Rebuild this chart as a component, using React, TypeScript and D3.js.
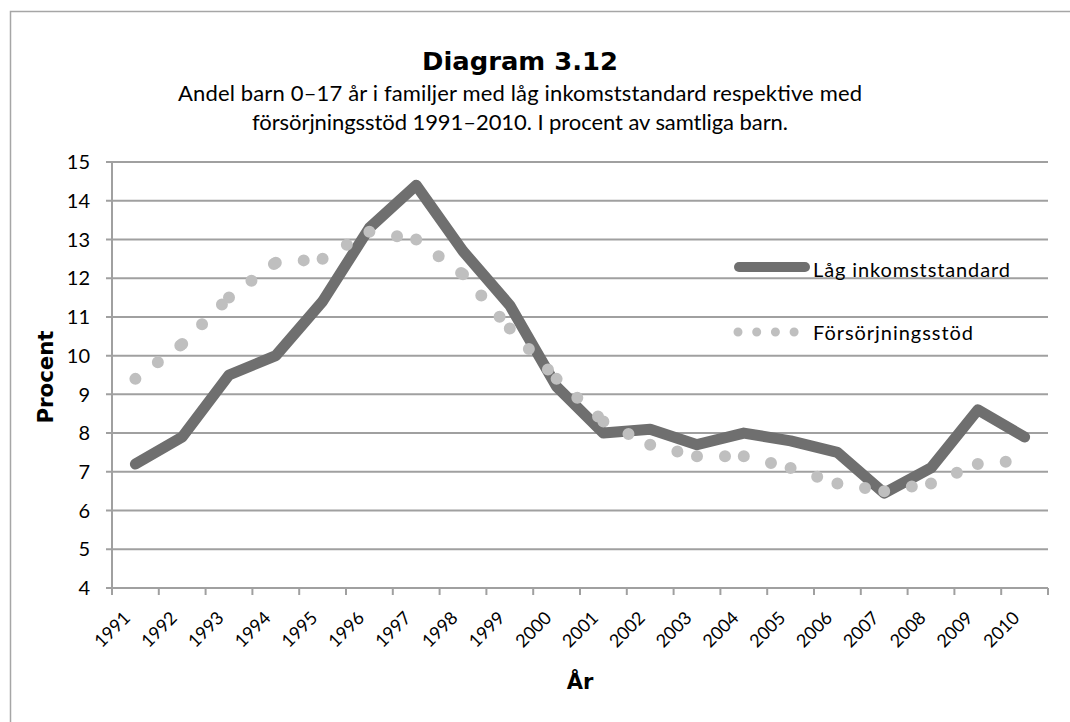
import React from "react";
import * as d3 from "d3";

// Years on the category axis
const years = ["1991", "1992", "1993", "1994", "1995", "1996", "1997", "1998", "1999", "2000",
  "2001", "2002", "2003", "2004", "2005", "2006", "2007", "2008", "2009", "2010"];

// Andel barn med låg inkomststandard (procent)
const lowIncome = [7.2, 7.9, 9.5, 10.0, 11.4, 13.3, 14.4, 12.7, 11.3, 9.2,
  8.0, 8.1, 7.7, 8.0, 7.8, 7.5, 6.45, 7.1, 8.6, 7.9];

// Andel barn med försörjningsstöd (procent)
const welfare = [9.4, 10.3, 11.5, 12.4, 12.5, 13.2, 13.0, 12.1, 10.7, 9.4,
  8.3, 7.7, 7.4, 7.4, 7.1, 6.7, 6.5, 6.7, 7.2, 7.3];

const yTicks = [4, 5, 6, 7, 8, 9, 10, 11, 12, 13, 14, 15];

const seriesNames = ["Låg inkomststandard", "Försörjningsstöd"];

const W = 1070;
const H = 722;
const FONT = "Lato, 'Open Sans', sans-serif";
const BOLD = "'DejaVu Sans', Lato, sans-serif";

export default function App() {
  const left = 112, right = 1048, top = 162, bottom = 588;

  const x = d3.scaleBand().domain(years).range([left, right]);
  const y = d3.scaleLinear().domain([4, 15]).range([bottom, top]);
  const cx = (yr: string) => (x(yr) as number) + x.bandwidth() / 2;

  const line = d3.line<number>().x((_, i) => cx(years[i])).y((d) => y(d));

  // Excel restarts the round-dot pattern on every segment
  const dotSegments = welfare.slice(1).map((v, i) =>
    d3.line<number>().x((_, j) => cx(years[i + j])).y((d) => y(d))([welfare[i], v])
  );

  const boundaries = d3.range(years.length + 1).map((i) => left + i * x.step());

  return (
    <svg width={W} height={H} style={{ position: "absolute", left: 0, top: 0 }}>
      <rect x={0} y={0} width={W} height={H} fill="#fff" />
      {/* outer frame */}
      <path d={`M10.5,${H + 5}V11.5H${W + 5}`} fill="none" stroke="#a6a6a6" strokeWidth={1.5} />

      {/* title */}
      <text x={520} y={70} textAnchor="middle" fontFamily={BOLD} fontWeight="bold" fontSize={24.5}
        textLength={196} lengthAdjust="spacingAndGlyphs">
        Diagram 3.12
      </text>
      <text x={520} y={101} textAnchor="middle" fontFamily={FONT} fontSize={22}
        textLength={684} lengthAdjust="spacing">
        Andel barn 0–17 år i familjer med låg inkomststandard respektive med
      </text>
      <text x={520} y={130} textAnchor="middle" fontFamily={FONT} fontSize={22}
        textLength={536} lengthAdjust="spacing">
        försörjningsstöd 1991–2010. I procent av samtliga barn.
      </text>

      {/* gridlines + y ticks */}
      {yTicks.map((t) => (
        <g key={t}>
          <line x1={left - 6} x2={right} y1={y(t)} y2={y(t)} stroke="#a0a0a0" strokeWidth={2} />
          <text x={left - 22} y={y(t)} dy="0.36em" textAnchor="end" fontFamily={FONT} fontSize={20}>
            {t}
          </text>
        </g>
      ))}
      <line x1={left} x2={left} y1={top} y2={bottom} stroke="#a0a0a0" strokeWidth={2} />
      {boundaries.map((bx, i) => (
        <line key={i} x1={bx} x2={bx} y1={bottom} y2={bottom + 7} stroke="#a0a0a0" strokeWidth={2} />
      ))}

      {/* x labels */}
      {years.map((yr) => (
        <text
          key={yr}
          transform={`translate(${cx(yr) - 4},${bottom + 31}) rotate(-45)`}
          textAnchor="end"
          fontFamily={FONT}
          fontSize={18}
        >
          {yr}
        </text>
      ))}

      {/* axis titles */}
      <text transform={`translate(53,377) rotate(-90)`} textAnchor="middle"
        fontFamily={BOLD} fontWeight="bold" fontSize={21} textLength={93} lengthAdjust="spacingAndGlyphs">
        Procent
      </text>
      <text x={(left + right) / 2} y={689} textAnchor="middle" fontFamily={BOLD} fontWeight="bold" fontSize={21}>
        År
      </text>

      {/* series */}
      <path d={line(lowIncome) as string} fill="none" stroke="#6f6f6f" strokeWidth={11}
        strokeLinejoin="round" strokeLinecap="round" />
      {dotSegments.map((d, i) => (
        <path key={i} d={d as string} fill="none" stroke="#bfbfbf" strokeWidth={12}
          strokeLinecap="round" strokeDasharray="0 28" />
      ))}

      {/* legend */}
      <line x1={739} x2={805} y1={267} y2={267} stroke="#6f6f6f" strokeWidth={10} strokeLinecap="round" />
      <text x={813} y={277} fontFamily={FONT} fontSize={20} textLength={197} lengthAdjust="spacing">
        {seriesNames[0]}
      </text>
      <line x1={738} x2={795} y1={332} y2={332} stroke="#bfbfbf" strokeWidth={9}
        strokeLinecap="round" strokeDasharray="0 18.7" />
      <text x={813} y={340} fontFamily={FONT} fontSize={20} textLength={160} lengthAdjust="spacing">
        {seriesNames[1]}
      </text>
    </svg>
  );
}
